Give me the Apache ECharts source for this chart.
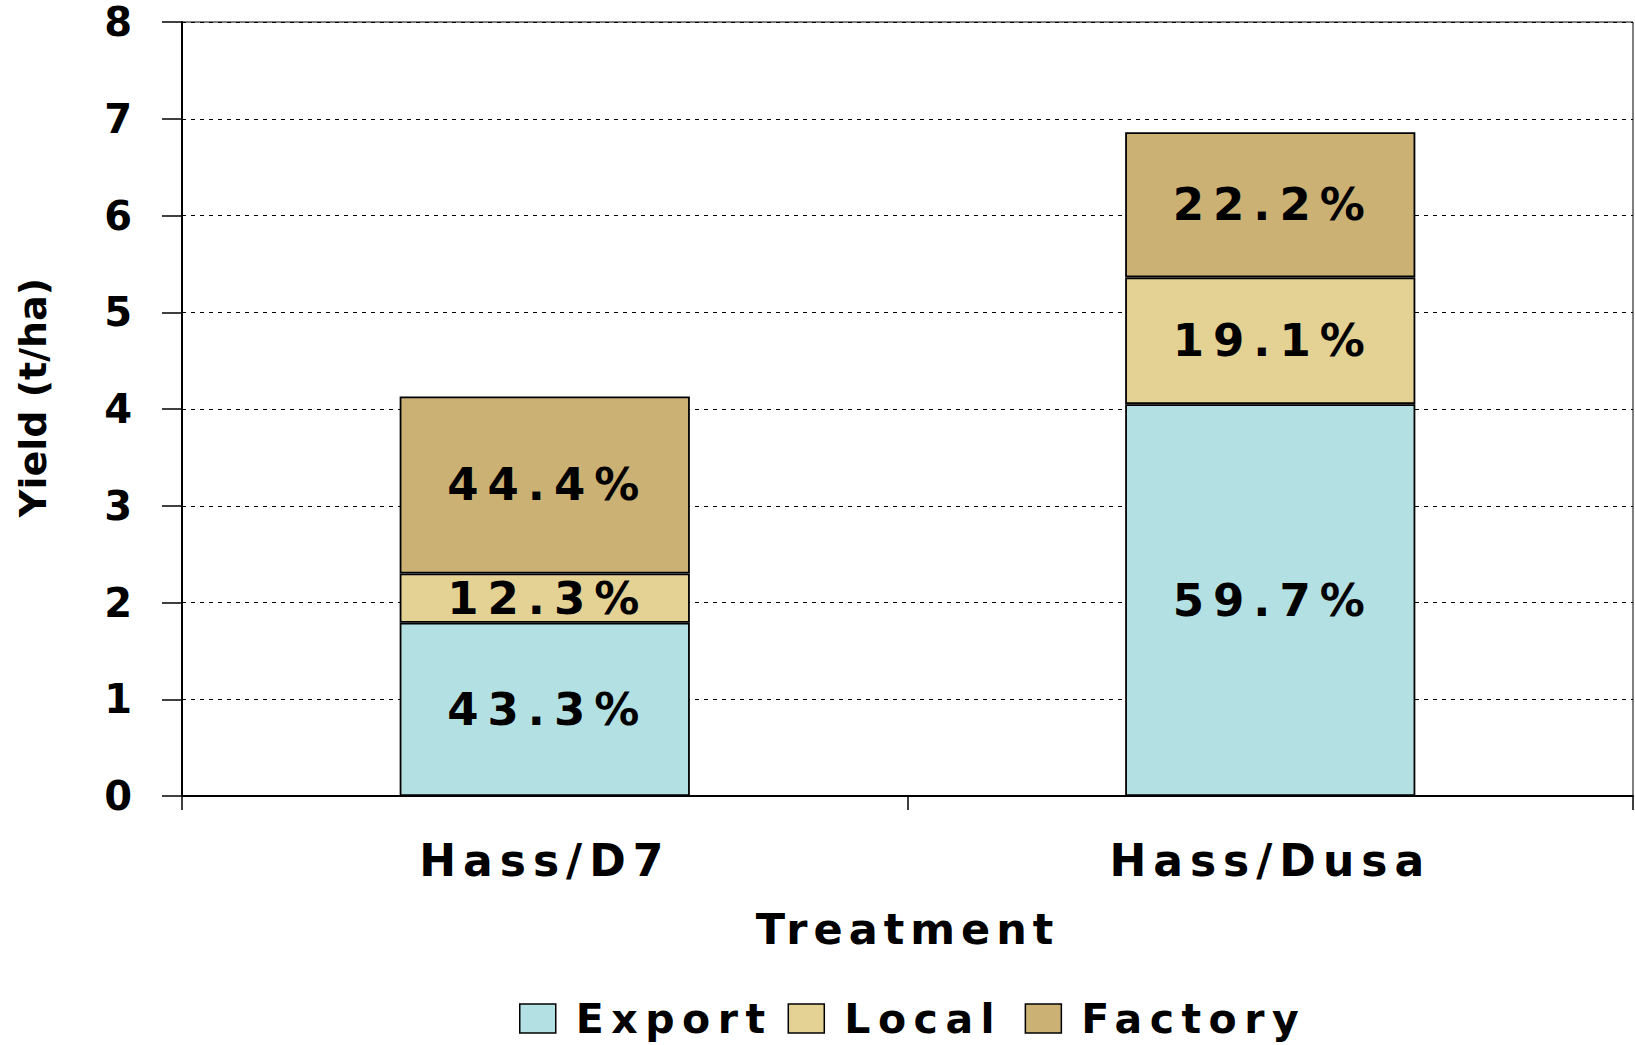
<!DOCTYPE html>
<html>
<head>
<meta charset="utf-8">
<script src="https://cdn.jsdelivr.net/npm/echarts@6/dist/echarts.min.js"></script>
<style>
  html, body { margin: 0; padding: 0; background: #fff; }
  #chart { width: 1635px; height: 1045px; }
  /* the original text is drawn wide, so spread the letters a bit */
  #chart text[style*="45px"] { letter-spacing: 9px; }
  #chart text[style*="44px"] { letter-spacing: 7px; }
  #chart text[style*="43px"] { letter-spacing: 6px; }
  #chart text[style*="41px"] { letter-spacing: 7.5px; }
</style>
</head>
<body>
<div id="chart"></div>
<script>
// treatments on the x axis
const treatments = ['Hass/D7', 'Hass/Dusa'];

// yield split (t/ha)
const exportYield = [1.79, 4.05];
const localYield = [0.51, 1.31];
const factoryYield = [1.83, 1.50];

// share labels shown inside each segment
const exportPct = ['43.3%', '59.7%'];
const localPct = ['12.3%', '19.1%'];
const factoryPct = ['44.4%', '22.2%'];

const yTicks = [0, 1, 2, 3, 4, 5, 6, 7, 8];

const font = 'DejaVu Sans';

function segment(name, data, pcts, color) {
    return {
        name: name,
        type: 'bar',
        stack: 'yield',
        barWidth: '40%',
        data: data,
        itemStyle: { color: color, borderColor: '#000', borderWidth: 1.8 },
        label: {
            show: true,
            position: 'inside',
            offset: [3, 0],
            formatter: function(p) { return pcts[p.dataIndex]; },
            color: '#000',
            fontFamily: font,
            fontWeight: 'bold',
            fontSize: 45
        }
    };
}

const chart = echarts.init(document.getElementById('chart'), null, { renderer: 'svg' });

chart.setOption({
    animation: false,
    backgroundColor: '#fff',
    grid: {
        left: 182,
        right: 2,
        top: 22,
        bottom: 249,
        show: true,
        borderColor: '#000',
        borderWidth: 1
    },
    legend: {
        bottom: 1,
        left: 514,
        itemWidth: 36,
        itemHeight: 29,
        itemGap: 60,
        icon: 'rect',
        itemStyle: { borderColor: '#000', borderWidth: 1.5 },
        textStyle: { fontFamily: font, fontWeight: 'bold', fontSize: 41, color: '#000', padding: [0, 0, 0, 15] },
        data: ['Export', 'Local', 'Factory']
    },
    xAxis: {
        type: 'category',
        data: treatments,
        name: 'Treatment',
        nameLocation: 'middle',
        nameGap: 111,
        nameTextStyle: { fontFamily: font, fontWeight: 'bold', fontSize: 43, color: '#000' },
        axisLine: { lineStyle: { color: '#000', width: 2 } },
        axisTick: { show: true, alignWithLabel: false, length: 14, lineStyle: { color: '#000', width: 1.5 } },
        axisLabel: { margin: 42, fontFamily: font, fontWeight: 'bold', fontSize: 44, color: '#000' }
    },
    yAxis: {
        type: 'value',
        min: yTicks[0],
        max: yTicks[yTicks.length - 1],
        interval: 1,
        name: 'Yield (t/ha)',
        nameLocation: 'middle',
        nameRotate: 90,
        nameGap: 130,
        nameTextStyle: { fontFamily: font, fontWeight: 'bold', fontSize: 38, color: '#000', padding: [0, 0, 0, 23] },
        axisLine: { show: true, lineStyle: { color: '#000', width: 2 } },
        axisTick: { show: true, length: 20, lineStyle: { color: '#000', width: 1.5 } },
        axisLabel: { margin: 50, fontFamily: font, fontWeight: 'bold', fontSize: 40, color: '#000' },
        splitLine: { show: true, lineStyle: { color: '#000', width: 1.2, type: [4, 5] } }
    },
    series: [
        segment('Export', exportYield, exportPct, '#b3e0e3'),
        segment('Local', localYield, localPct, '#e4d194'),
        segment('Factory', factoryYield, factoryPct, '#cbb274')
    ]
});
</script>
</body>
</html>
